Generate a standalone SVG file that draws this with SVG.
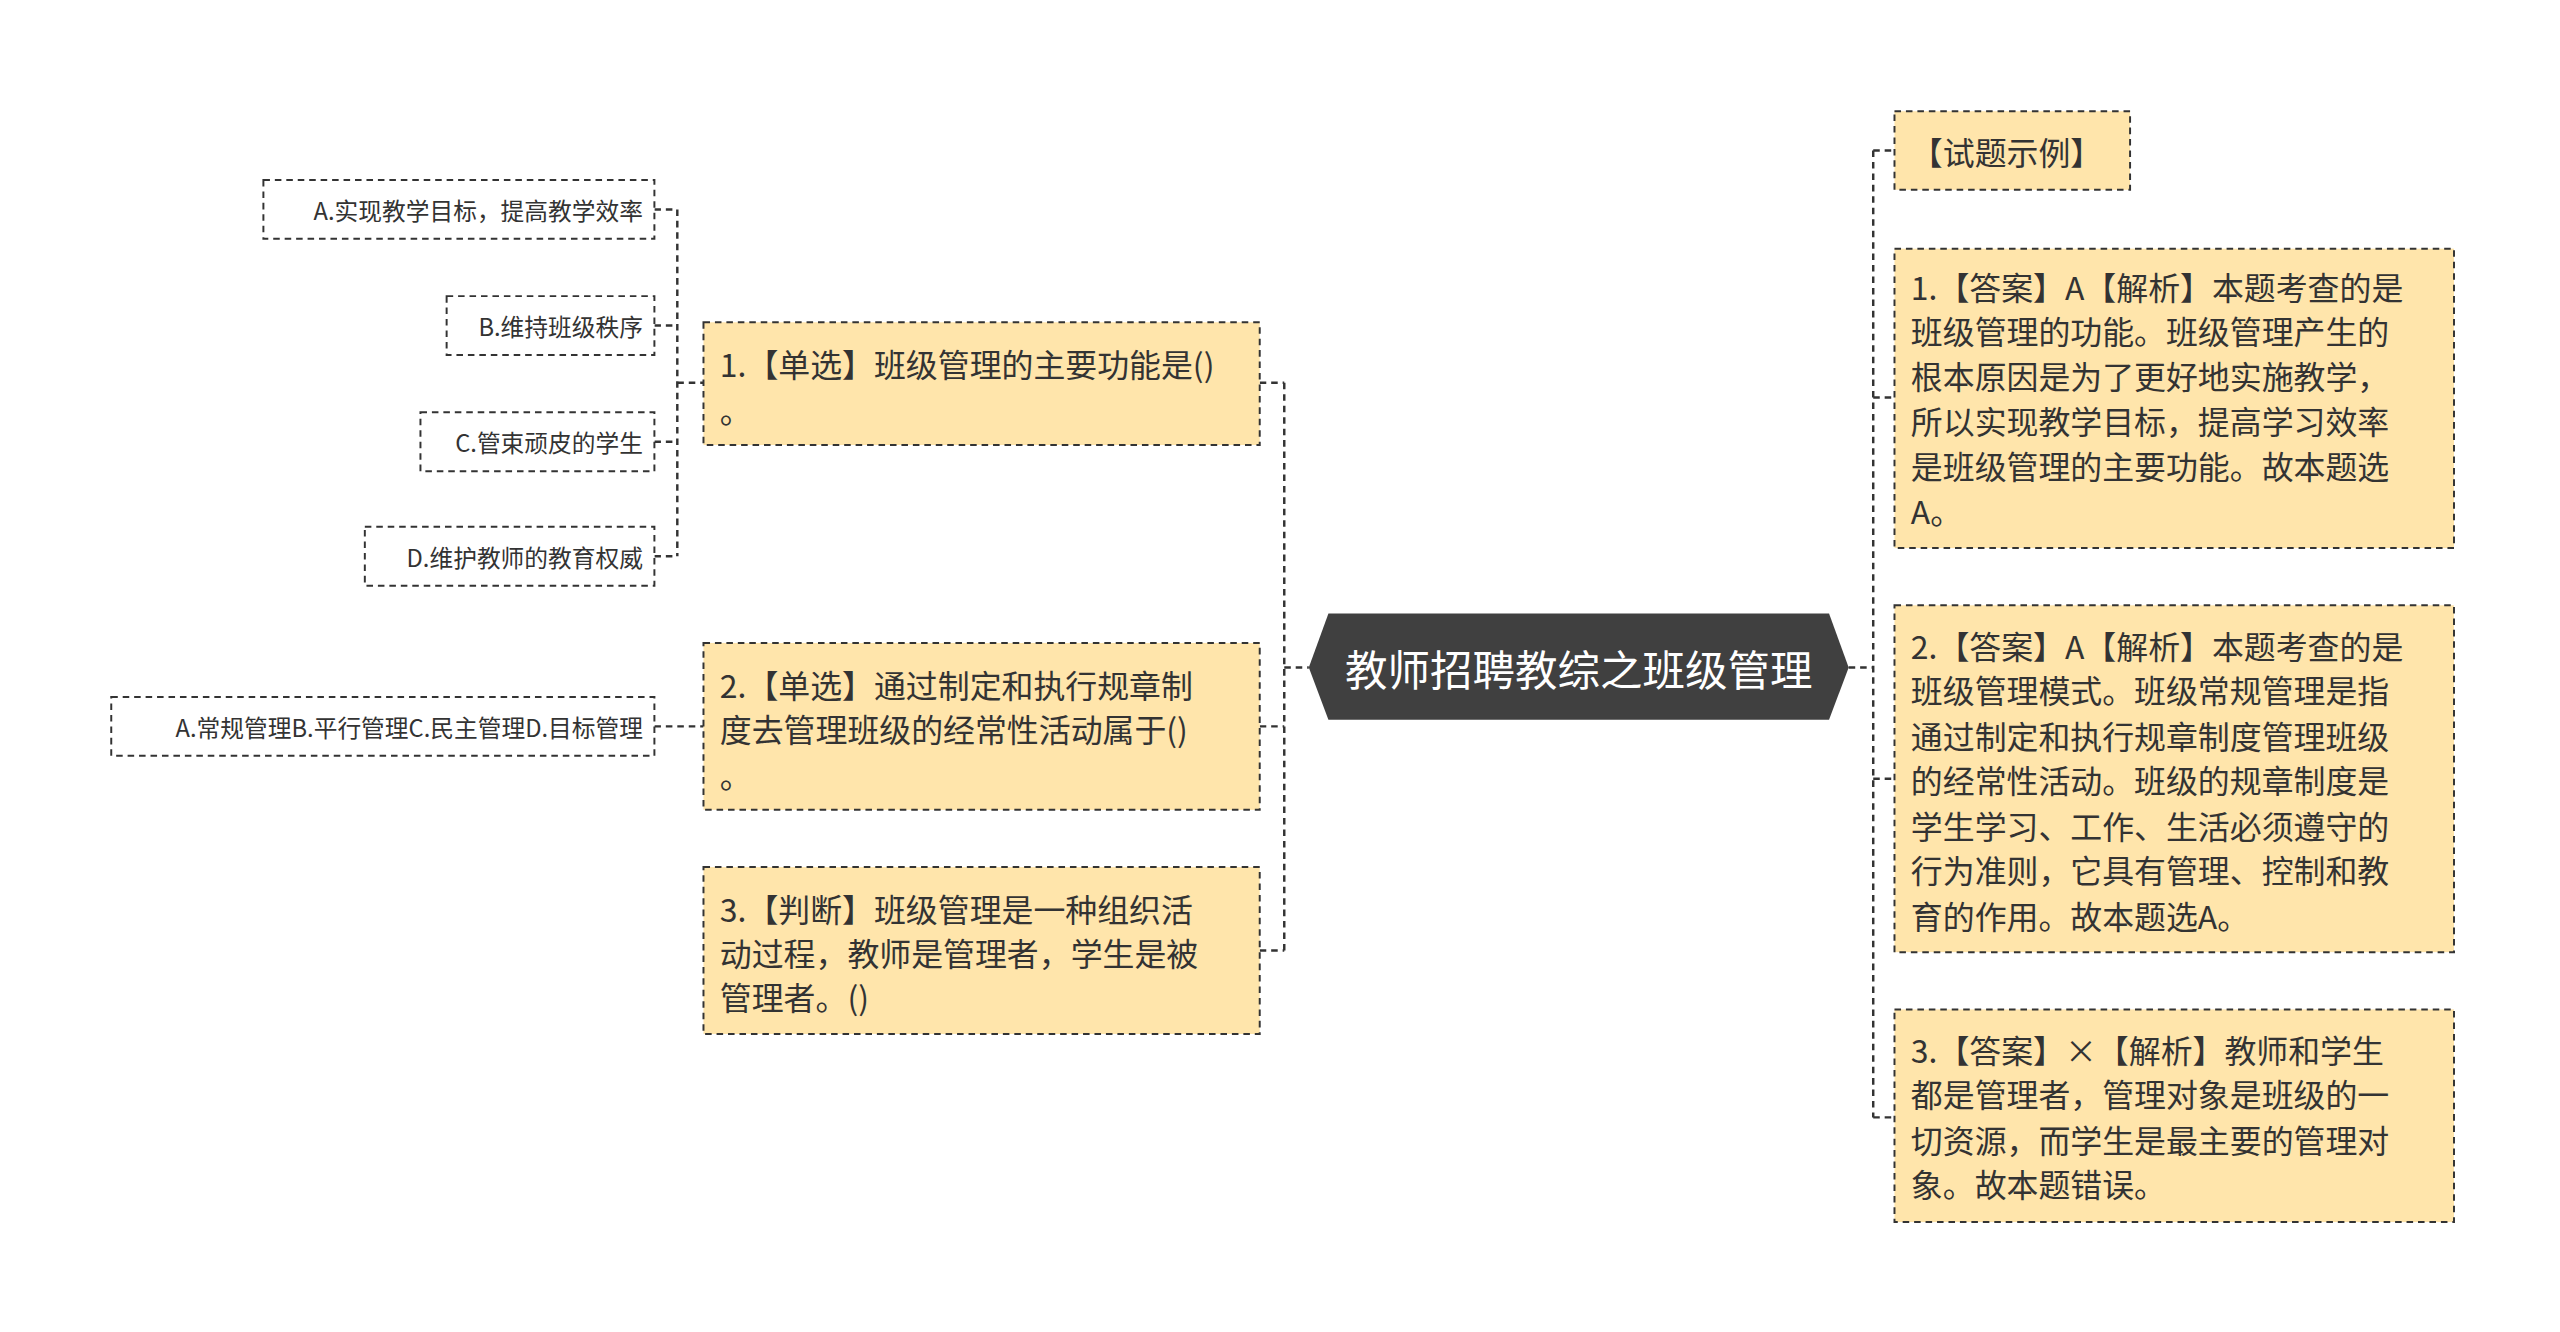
<svg xmlns="http://www.w3.org/2000/svg" width="2560" height="1332" viewBox="0 0 2560 1332">
<style>
.t{font-family:"Noto Sans CJK SC","Noto Sans",sans-serif;fill:#333;dominant-baseline:central}
.m{font-size:19.5px}
.s{font-size:14.5px}
.q{fill:#ffe5ab;stroke:#333;stroke-width:1.2;stroke-dasharray:4 3}
.o{fill:#fff;stroke:#333;stroke-width:1.2;stroke-dasharray:4 3}
.c{fill:none;stroke:#333;stroke-width:1.5;stroke-dasharray:4 3}
</style>
<rect width="2560" height="1332" fill="#fff"/>
<g transform="scale(1.636)">
<g id="connectors">
<path class="c" d="M785 408H800M785 234V581M770 234H785M770 444H785M770 581H785"/>
<path class="c" d="M1130 408H1145M1145 92V683M1145 92H1158M1145 243H1158M1145 476H1158M1145 683H1158"/>
<path class="c" d="M414 128V340M414 234H430M400 128H414M400 199H414M400 270H414M400 340H414M400 444H430"/>
</g>
<g id="center">
<polygon points="812,375 1118,375 1130,408 1118,440 812,440 800,408" fill="#404040"/>
<text class="t" x="965" y="408" font-size="26" text-anchor="middle" style="fill:#fff">教师招聘教综之班级管理</text>
</g>
<g id="q1"><rect class="q" x="430" y="197" width="340" height="75"/>
<text class="t m" x="440" y="222">1.【单选】班级管理的主要功能是()</text><text class="t m" x="440" y="250">。</text></g>
<g id="q2"><rect class="q" x="430" y="393" width="340" height="102"/>
<text class="t m" x="440" y="418">2.【单选】通过制定和执行规章制</text><text class="t m" x="440" y="445">度去管理班级的经常性活动属于()</text><text class="t m" x="440" y="473">。</text></g>
<g id="q3"><rect class="q" x="430" y="530" width="340" height="102"/>
<text class="t m" x="440" y="555">3.【判断】班级管理是一种组织活</text><text class="t m" x="440" y="582">动过程，教师是管理者，学生是被</text><text class="t m" x="440" y="609">管理者。()</text></g>
<g id="a1"><rect class="o" x="161" y="110" width="239" height="36"/><text class="t s" x="393" y="128" text-anchor="end">A.实现教学目标，提高教学效率</text></g>
<g id="b1"><rect class="o" x="273" y="181" width="127" height="36"/><text class="t s" x="393" y="199" text-anchor="end">B.维持班级秩序</text></g>
<g id="c1"><rect class="o" x="257" y="252" width="143" height="36"/><text class="t s" x="393" y="270" text-anchor="end">C.管束顽皮的学生</text></g>
<g id="d1"><rect class="o" x="223" y="322" width="177" height="36"/><text class="t s" x="393" y="340" text-anchor="end">D.维护教师的教育权威</text></g>
<g id="opt2"><rect class="o" x="68" y="426" width="332" height="36"/><text class="t s" x="393" y="444" text-anchor="end">A.常规管理B.平行管理C.民主管理D.目标管理</text></g>
<g id="r0"><rect class="q" x="1158" y="68" width="144" height="48"/><text class="t m" x="1168" y="92">【试题示例】</text></g>
<g id="r1"><rect class="q" x="1158" y="152" width="342" height="183"/>
<text class="t m" x="1168" y="175">1.【答案】A【解析】本题考查的是</text><text class="t m" x="1168" y="202">班级管理的功能。班级管理产生的</text><text class="t m" x="1168" y="229">根本原因是为了更好地实施教学，</text><text class="t m" x="1168" y="257">所以实现教学目标，提高学习效率</text><text class="t m" x="1168" y="284">是班级管理的主要功能。故本题选</text><text class="t m" x="1168" y="312">A。</text></g>
<g id="r2"><rect class="q" x="1158" y="370" width="342" height="212"/>
<text class="t m" x="1168" y="394">2.【答案】A【解析】本题考查的是</text><text class="t m" x="1168" y="421">班级管理模式。班级常规管理是指</text><text class="t m" x="1168" y="449">通过制定和执行规章制度管理班级</text><text class="t m" x="1168" y="476">的经常性活动。班级的规章制度是</text><text class="t m" x="1168" y="504">学生学习、工作、生活必须遵守的</text><text class="t m" x="1168" y="531">行为准则，它具有管理、控制和教</text><text class="t m" x="1168" y="559">育的作用。故本题选A。</text></g>
<g id="r3"><rect class="q" x="1158" y="617" width="342" height="130"/>
<text class="t m" x="1168" y="641">3.【答案】×【解析】教师和学生</text><text class="t m" x="1168" y="668">都是管理者，管理对象是班级的一</text><text class="t m" x="1168" y="696">切资源，而学生是最主要的管理对</text><text class="t m" x="1168" y="723">象。故本题错误。</text></g>
</g>
</svg>
